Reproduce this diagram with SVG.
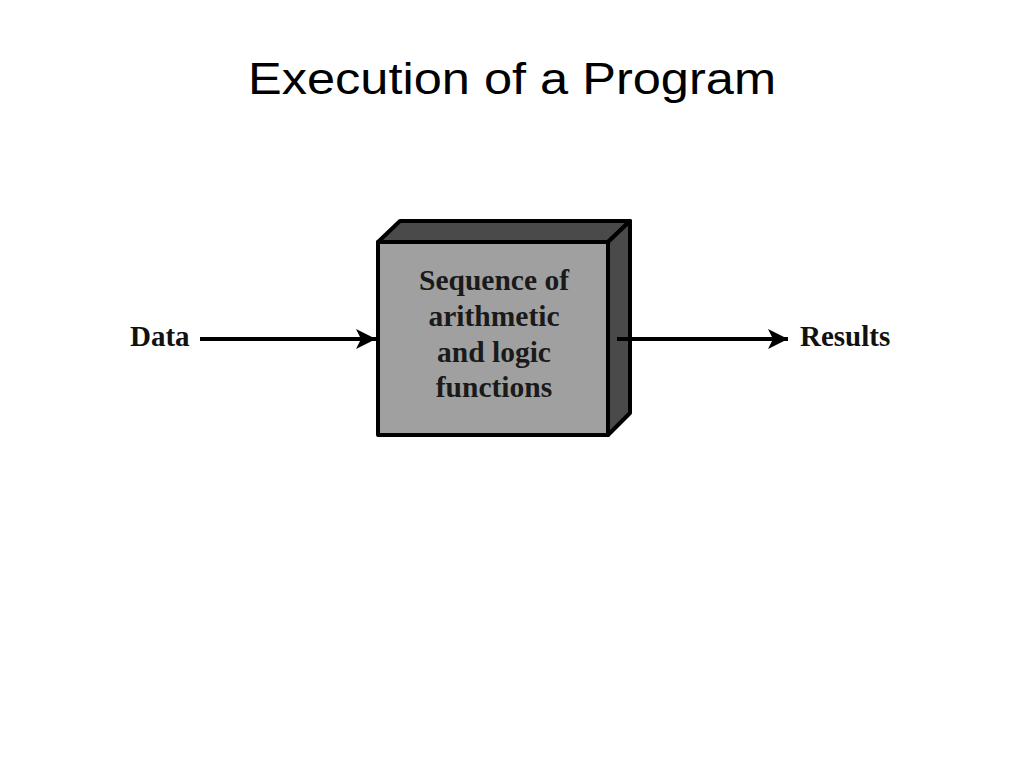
<svg xmlns="http://www.w3.org/2000/svg" width="1024" height="768" viewBox="0 0 1024 768">
<style>
.title{font-family:"Liberation Sans","DejaVu Sans",sans-serif;font-size:44px;fill:#000}
.lbl{font-family:"Liberation Serif","DejaVu Serif",serif;font-weight:bold;font-size:29px;fill:#111}
.box{font-family:"Liberation Serif","DejaVu Serif",serif;font-weight:bold;font-size:29.5px;fill:#1a1a1a}
.edge{stroke:#000;stroke-width:4;fill:none}
.outline{stroke:#000;stroke-width:4;stroke-linejoin:round}
</style>
<defs>
<marker id="arr" viewBox="0 0 10 10" refX="10" refY="5" markerWidth="6" markerHeight="5" markerUnits="strokeWidth" orient="auto">
<path d="M0,0 L10,5 L0,10 L2.5,5 Z" fill="#000"/>
</marker>
</defs>
<rect width="1024" height="768" fill="#fff"/>
<text class="title" x="512" y="94" text-anchor="middle" textLength="528" lengthAdjust="spacingAndGlyphs">Execution of a Program</text>
<g id="data">
<text class="lbl" x="130" y="346">Data</text>
</g>
<g id="process">
<polygon class="outline" points="378,242 400,221 630,221 608,242" fill="#4a4a4a"/>
<polygon class="outline" points="608,242 630,221 630,413 608,435" fill="#4a4a4a"/>
<rect class="outline" x="378" y="242" width="230" height="193" fill="#a0a0a0"/>
<text class="box" x="494" y="290" text-anchor="middle">Sequence of</text>
<text class="box" x="494" y="326" text-anchor="middle">arithmetic</text>
<text class="box" x="494" y="362" text-anchor="middle">and logic</text>
<text class="box" x="494" y="397" text-anchor="middle">functions</text>
</g>
<g id="results">
<text class="lbl" x="800" y="346">Results</text>
</g>
<g id="connectors">
<line class="edge" x1="200" y1="339" x2="376" y2="339" marker-end="url(#arr)"/>
<line class="edge" x1="617" y1="339" x2="788" y2="339" marker-end="url(#arr)"/>
</g>
</svg>
